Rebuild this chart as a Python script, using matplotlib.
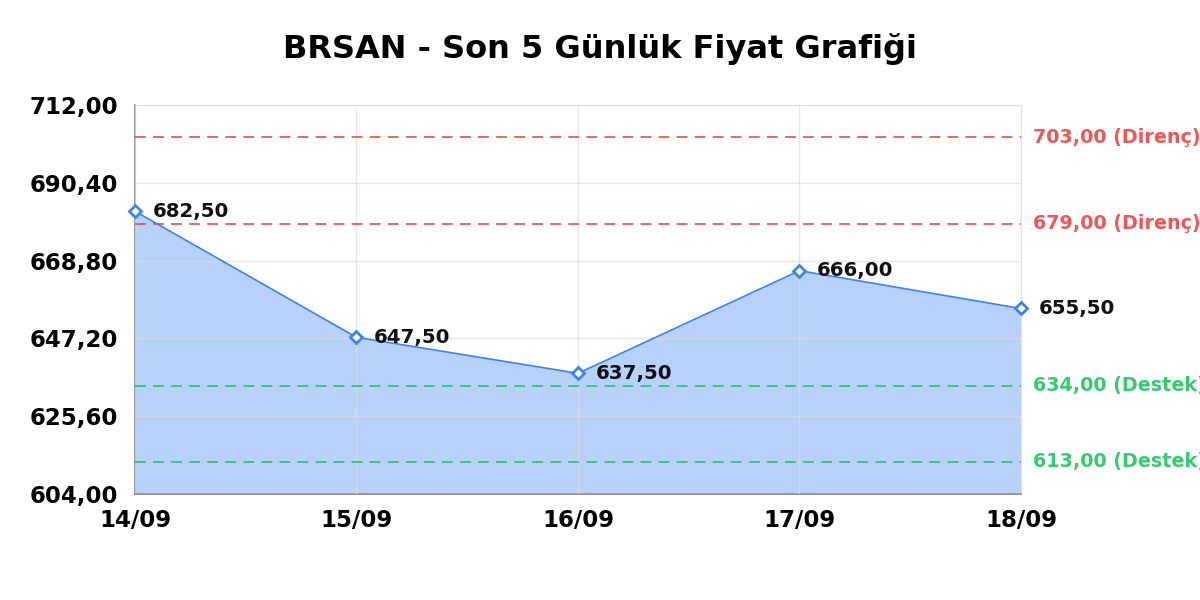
import numpy as np
import matplotlib
matplotlib.use("Agg")
import matplotlib.pyplot as plt

# data
dates = ["14/09", "15/09", "16/09", "17/09", "18/09"]
prices = [682.50, 647.50, 637.50, 666.00, 655.50]
resistance = [703.00, 679.00]
support = [634.00, 613.00]
yticks = [604.00, 625.60, 647.20, 668.80, 690.40, 712.00]

def tr(v):
    return f"{v:.2f}".replace(".", ",")

plt.rcParams['font.family'] = ['DejaVu Sans']

fig = plt.figure(figsize=(12, 6), dpi=100)
ax = fig.add_axes([0.1125, 0.1767, 0.7383, 0.6483])

x = np.arange(len(dates))
blue = "#3b82f6"
ax.fill_between(x, prices, yticks[0], color=blue, alpha=0.36, linewidth=0, zorder=1)
ax.plot(x, prices, color=blue, linewidth=1.2, marker="D", markersize=6.5,
        markerfacecolor="white", markeredgecolor=blue, markeredgewidth=2, zorder=4,
        clip_on=False)

for xi, p in zip(x, prices):
    ax.annotate(tr(p), (xi, p), xytext=(12.5, 0), textcoords="offset points",
                ha="left", va="center", fontsize=14.2, fontweight="bold",
                color="#111111", zorder=5, annotation_clip=False)

for lvl in resistance:
    ax.axhline(lvl, color="#ef4444", linestyle=(0, (6, 4)), linewidth=1.3, alpha=0.9, zorder=3)
    ax.annotate(f"{tr(lvl)} (Direnç)", (1, lvl), xycoords=("axes fraction", "data"),
                xytext=(9, 0), textcoords="offset points", ha="left", va="center",
                fontsize=13.8, fontweight="bold", color="#ef4444", alpha=0.9,
                annotation_clip=False)
for lvl in support:
    ax.axhline(lvl, color="#22c55e", linestyle=(0, (6, 4)), linewidth=1.3, alpha=0.9, zorder=3)
    ax.annotate(f"{tr(lvl)} (Destek)", (1, lvl), xycoords=("axes fraction", "data"),
                xytext=(9, 0), textcoords="offset points", ha="left", va="center",
                fontsize=13.8, fontweight="bold", color="#22c55e", alpha=0.9,
                annotation_clip=False)

ax.set_xlim(0, len(dates) - 1)
ax.set_ylim(yticks[0], yticks[-1])
ax.set_xticks(x)
ax.set_xticklabels(dates, fontsize=16.5, fontweight="bold")
ax.set_yticks(yticks)
ax.set_yticklabels([tr(v) for v in yticks], fontsize=16.5, fontweight="bold")
ax.tick_params(length=0)
ax.tick_params(axis="y", pad=12)
ax.tick_params(axis="x", pad=11)

ax.grid(True, color="#dddddd", linewidth=1, alpha=0.7, zorder=2)
ax.set_axisbelow(False)
for s in ["top", "right"]:
    ax.spines[s].set_color("#e0e0e0")
for s in ["left", "bottom"]:
    ax.spines[s].set_color("#888888")
    ax.spines[s].set_linewidth(1.2)

fig.suptitle("BRSAN - Son 5 Günlük Fiyat Grafiği", fontsize=23, fontweight="bold",
             y=0.945)

fig.savefig("out.png", dpi=100)
